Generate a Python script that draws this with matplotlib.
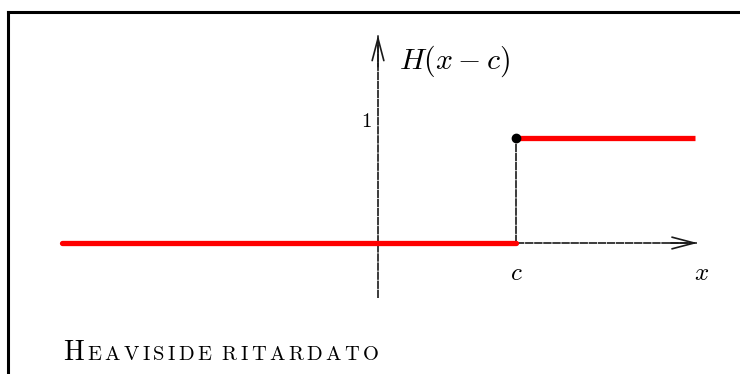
import matplotlib
matplotlib.use("Agg")
import matplotlib.pyplot as plt
from matplotlib.lines import Line2D

plt.rcParams["mathtext.fontset"] = "cm"

# step location and plotted range
c = 2.0
x_left, x_right = -4.58, 4.59
step_low, step_high = 0.0, 1.0
y_tick = [1]
y_tick_labels = ["1"]
caption_first = "H"
caption_rest = "EAVISIDE RITARDATO"

W, H = 740, 374
fig = plt.figure(figsize=(W / 100, H / 100), dpi=100)
ax = fig.add_axes([0, 0, 1, 1])
ax.set_xlim(-378 / 69, 362 / 69)
ax.set_ylim(-131 / 105, 243 / 105)
ax.axis("off")

dash = (0, (5, 0.45))
axis_color = "#1a1a1a"
head = "->,head_length=1.6,head_width=0.42"

# coordinate axes: dashed shafts with solid open arrowheads
x_tip, y_top, y_bot = 4.63, 1.98, -0.52
ax.plot([c, x_tip], [0, 0], color=axis_color, lw=1.2, linestyle=dash)
ax.plot([0, 0], [y_bot, y_top], color=axis_color, lw=1.2, linestyle=dash)
ax.annotate("", xy=(x_tip, 0), xytext=(x_tip - 0.4, 0),
            arrowprops=dict(arrowstyle=head, color=axis_color, lw=1.2,
                            shrinkA=0, shrinkB=0))
ax.annotate("", xy=(0, y_top), xytext=(0, y_top - 0.3),
            arrowprops=dict(arrowstyle=head, color=axis_color, lw=1.2,
                            shrinkA=0, shrinkB=0))

# jump at x = c
ax.plot([c, c], [step_low, step_high], color=axis_color, lw=1.2,
        linestyle=dash)

# the delayed Heaviside step
ax.plot([x_left, c], [step_low, step_low], color="red", lw=3.8,
        solid_capstyle="round")
ax.plot([c, x_right], [step_high, step_high], color="red", lw=3.8,
        solid_capstyle="butt")
ax.plot([c], [step_high], marker="o", ms=6, color="black", mfc="black")

# labels
for yv, lab in zip(y_tick, y_tick_labels):
    ax.text(-0.085, yv + 0.16, r"$%s$" % lab, fontsize=15,
            ha="right", va="center")
ax.text(0.3, 1.73, r"$H(x-c)$", fontsize=21.5, ha="left", va="center")
ax.text(c, -0.29, r"$c$", fontsize=18, ha="center", va="center")
ax.text(4.69, -0.29, r"$x$", fontsize=18, ha="center", va="center")

# caption in small capitals, placed letter by letter on a common baseline
renderer = fig.canvas.get_renderer()
base_y = H - 360
pos_x = 63
letters = [(caption_first, 20)] + [(ch, 14.8) for ch in caption_rest]
for ch, size in letters:
    t = fig.text(pos_x / W, base_y / H, ch, fontsize=size, family="cmr10",
                 ha="left", va="baseline")
    if ch == " ":
        pos_x += 7
    else:
        pos_x += t.get_window_extent(renderer).width + 3.4

# frame
fig.add_artist(Line2D([8 / W, 8 / W], [0, 1 - 12 / H],
                      transform=fig.transFigure, color="black", lw=2.2))
fig.add_artist(Line2D([8 / W, 1], [1 - 12 / H, 1 - 12 / H],
                      transform=fig.transFigure, color="black", lw=2.2))

fig.savefig("out.png", dpi=100)
